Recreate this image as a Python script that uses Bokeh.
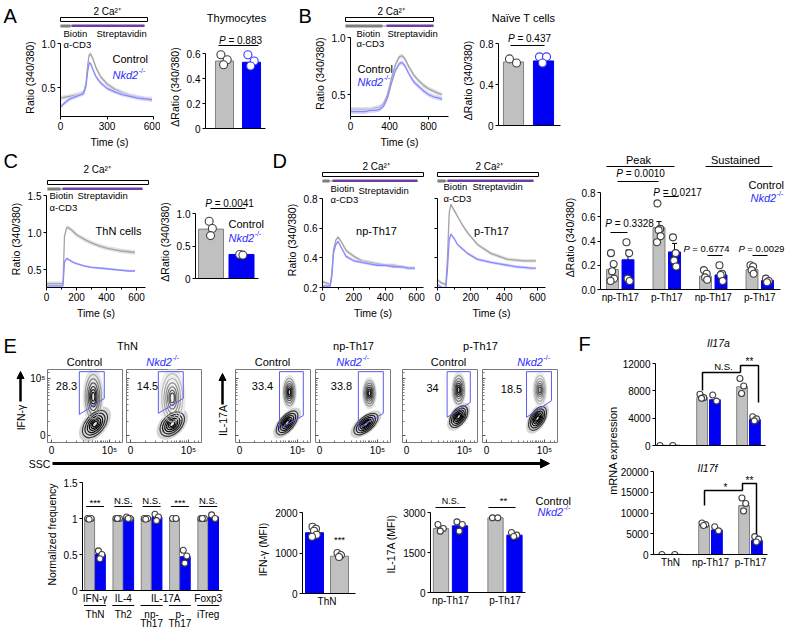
import math
from bokeh.plotting import figure
from bokeh.layouts import column
from bokeh.models import Range1d, FixedTicker, Arrow, NormalHead
from bokeh.core.properties import value
from bokeh.embed import file_html
from bokeh.resources import INLINE

FONT = "Liberation Sans"
GRAY = "#c0c0c0"
GRAY_EDGE = "#808080"
BLUE = "#0000f2"
TR_GRAY = "#a4a4a4"
TR_GRAY_BAND = "#dddddd"
TR_BLUE = "#8a8aff"
TR_BLUE_BAND = "#d0d0ff"
KO_TXT = "#2b2bff"
PURPLE = "#6e3f9e"
GATE = "#5c5cf0"
DOT_EDGE = "#404040"

# ======================= DATA =======================
# A  Thymocytes
A_time = [0, 30, 60, 90, 120, 150, 165, 175, 185, 195, 210, 230, 260, 300, 350, 400, 450, 500, 550, 590]
A_ctrl = [0.38, 0.39, 0.40, 0.41, 0.42, 0.45, 0.55, 0.75, 0.87, 0.88, 0.82, 0.72, 0.62, 0.54, 0.48, 0.44, 0.41, 0.39, 0.37, 0.37]
A_ko = [0.28, 0.33, 0.37, 0.39, 0.41, 0.43, 0.52, 0.68, 0.78, 0.77, 0.70, 0.62, 0.55, 0.49, 0.45, 0.42, 0.40, 0.38, 0.37, 0.36]
A_sem = [0.025, 0.022]
A_x_ticks = [0, 300, 600]
A_x_labels = ["0", "300", "600"]
A_y_ticks = [0.5, 1.0]
A_y_labels = ["0.5", "1.0"]
A_bar_mean = [0.54, 0.53]
A_bar_ctrl_pts = [0.59, 0.55, 0.51]
A_bar_ko_pts = [0.59, 0.54, 0.50]
A_bar_y_ticks = [0, 0.2, 0.4, 0.6]
A_bar_y_labels = ["0", "0.2", "0.4", "0.6"]
A_p = "0.883"

# B  Naive T cells
B_time = [0, 50, 100, 150, 200, 250, 300, 340, 380, 420, 460, 500, 530, 560, 600, 650, 700, 750, 800, 850, 900, 940]
B_ctrl = [0.37, 0.37, 0.37, 0.37, 0.37, 0.38, 0.39, 0.42, 0.50, 0.64, 0.76, 0.83, 0.84, 0.81, 0.74, 0.67, 0.62, 0.58, 0.55, 0.53, 0.51, 0.50]
B_ko = [0.35, 0.35, 0.35, 0.35, 0.36, 0.36, 0.37, 0.40, 0.47, 0.60, 0.71, 0.77, 0.78, 0.75, 0.68, 0.61, 0.57, 0.53, 0.50, 0.48, 0.47, 0.46]
B_sem = [0.02, 0.02]
B_x_ticks = [0, 400, 800]
B_x_labels = ["0", "400", "800"]
B_y_ticks = [0.5, 1.0]
B_y_labels = ["0.5", "1.0"]
B_bar_mean = [0.62, 0.63]
B_bar_ctrl_pts = [0.65, 0.61]
B_bar_ko_pts = [0.67, 0.67, 0.61]
B_bar_y_ticks = [0, 0.4, 0.8]
B_bar_y_labels = ["0", "0.4", "0.8"]
B_p = "0.437"

# C  ThN cells
C_time = [0, 25, 50, 75, 100, 110, 120, 135, 150, 175, 200, 250, 300, 350, 400, 450, 500, 550, 590]
C_ctrl = [0.31, 0.31, 0.31, 0.31, 0.31, 0.31, 0.95, 1.07, 1.06, 1.02, 0.97, 0.91, 0.86, 0.82, 0.79, 0.77, 0.75, 0.74, 0.73]
C_ko = [0.28, 0.28, 0.28, 0.28, 0.28, 0.28, 0.60, 0.65, 0.63, 0.60, 0.58, 0.55, 0.53, 0.52, 0.51, 0.50, 0.49, 0.48, 0.48]
C_sem = [0.03, 0.015]
C_x_ticks = [0, 200, 400, 600]
C_x_labels = ["0", "200", "400", "600"]
C_y_ticks = [0.5, 1.0, 1.5]
C_y_labels = ["0.5", "1.0", "1.5"]
C_bar_mean = [0.76, 0.37]
C_bar_ctrl_pts = [0.88, 0.77, 0.66]
C_bar_ko_pts = [0.37, 0.36]
C_bar_y_ticks = [0, 0.5, 1.0]
C_bar_y_labels = ["0", "0.5", "1.0"]
C_p = "0.0041"

# D  np-Th17 / p-Th17 traces
Dnp_time = [0, 25, 50, 60, 70, 85, 100, 125, 150, 200, 250, 300, 350, 400, 450, 500, 550, 590]
Dnp_ctrl = [0.24, 0.23, 0.22, 0.30, 0.45, 0.52, 0.54, 0.50, 0.45, 0.41, 0.38, 0.37, 0.36, 0.35, 0.35, 0.34, 0.33, 0.33]
Dnp_ko = [0.21, 0.21, 0.21, 0.28, 0.43, 0.49, 0.51, 0.46, 0.41, 0.38, 0.37, 0.36, 0.35, 0.35, 0.34, 0.34, 0.33, 0.33]
Dp_time = [0, 25, 50, 60, 70, 80, 100, 120, 150, 180, 210, 240, 280, 320, 370, 420, 470, 520, 560, 590]
Dp_ctrl = [0.25, 0.23, 0.22, 0.40, 0.70, 0.76, 0.72, 0.68, 0.62, 0.57, 0.53, 0.49, 0.46, 0.43, 0.41, 0.39, 0.385, 0.38, 0.38, 0.38]
Dp_ko = [0.22, 0.20, 0.195, 0.33, 0.52, 0.56, 0.53, 0.49, 0.46, 0.43, 0.41, 0.39, 0.38, 0.37, 0.36, 0.35, 0.34, 0.335, 0.33, 0.33]
D_sem = [0.012, 0.01]
D_x_ticks = [0, 200, 400, 600]
D_x_labels = ["0", "200", "400", "600"]
D_y_ticks = [0.2, 0.4, 0.6, 0.8]
D_y_labels = ["0.2", "0.4", "0.6", "0.8"]

# D  bar chart (peak / sustained)
D_bar_cats = ["np-Th17", "p-Th17", "np-Th17", "p-Th17"]
D_ctrl_mean = [0.165, 0.51, 0.11, 0.165]
D_ko_mean = [0.245, 0.31, 0.12, 0.075]
D_ctrl_sem = [0.05, 0.05, 0.025, 0.025]
D_ko_sem = [0.08, 0.07, 0.03, 0.012]
D_ctrl_pts = [[0.30, 0.21, 0.15, 0.09, 0.07], [0.71, 0.50, 0.49, 0.44, 0.39],
              [0.16, 0.13, 0.10, 0.08], [0.20, 0.19, 0.16, 0.13]]
D_ko_pts = [[0.39, 0.30, 0.09, 0.07], [0.43, 0.30, 0.24, 0.19],
            [0.20, 0.13, 0.12, 0.07], [0.09, 0.07, 0.06]]
D_bar_y_ticks = [0, 0.2, 0.4, 0.6, 0.8]
D_bar_y_labels = ["0.0", "0.2", "0.4", "0.6", "0.8"]
D_p = ["0.3328", "0.0217", "0.6774", "0.0029", "0.0010"]

# E  flow cytometry (contour populations: cx, cy, width, height, angle, tone)
E_flow_pct = ["28.3", "14.5", "33.4", "33.8", "34", "18.5"]
E_flow_blobs = [
    [(0.75, 0.20, 0.55, 0.33, 50, "dark"), (0.72, 0.68, 0.28, 0.78, 0, "mid")],
    [(0.72, 0.20, 0.50, 0.33, 45, "dark"), (0.72, 0.66, 0.36, 0.85, 0, "light")],
    [(0.82, 0.22, 0.50, 0.25, 50, "dark"), (0.86, 0.76, 0.20, 0.48, 0, "mid")],
    [(0.80, 0.20, 0.50, 0.25, 40, "dark"), (0.86, 0.74, 0.20, 0.45, 0, "mid")],
    [(0.90, 0.33, 0.42, 0.25, 55, "dark"), (0.90, 0.80, 0.20, 0.50, 0, "mid")],
    [(0.88, 0.30, 0.45, 0.25, 60, "dark"), (0.92, 0.80, 0.20, 0.50, 0, "light")],
]
E_gate_x = [[0.48, 0.48, 0.91, 0.91], [0.48, 0.48, 0.91, 0.91], [0.69, 0.69, 1.10, 1.10],
            [0.67, 0.67, 1.10, 1.10], [0.70, 0.70, 1.10, 1.10], [0.69, 0.69, 1.12, 1.12]]
E_gate_y = [[0.37, 1.12, 1.12, 0.65], [0.39, 1.12, 1.12, 0.65], [0.12, 1.12, 1.12, 0.35],
            [0.13, 1.12, 1.12, 0.39], [0.32, 1.12, 1.12, 0.58], [0.32, 1.12, 1.12, 0.61]]
E_flow_ticks = [0, 1]
E_flow_labels = ["0", "10\u2075"]

# E  normalized frequency
E_norm_cats = ["IFN-\u03b3", "IL-4", "IL-17A", "IL-17A", "Foxp3"]
E_norm_cells = ["ThN", "Th2", "np-Th17", "p-Th17", "iTreg"]
E_norm_ctrl = [1.0, 1.0, 1.0, 1.0, 1.0]
E_norm_ko = [0.50, 1.01, 1.02, 0.47, 1.02]
E_norm_ctrl_pts = [[1.0, 1.0, 0.99], [1.0, 1.0, 1.0], [1.0, 1.0, 0.99], [1.0, 1.0], [1.0, 1.0, 1.0]]
E_norm_ko_pts = [[0.55, 0.50, 0.44], [1.02, 1.0, 1.0], [1.06, 1.02, 0.97], [0.56, 0.48, 0.38], [1.05, 1.0]]
E_norm_sig = ["***", "N.S.", "N.S.", "***", "N.S."]
E_norm_y_ticks = [0, 0.5, 1, 1.5]
E_norm_y_labels = ["0", "0.5", "1", "1.5"]

# E  IFN-gamma MFI (ThN)
E_ifn_first = 1500
E_ifn_second = 920
E_ifn_first_pts = [1650, 1600, 1550, 1450, 1400]
E_ifn_second_pts = [1000, 950, 900]
E_ifn_y_ticks = [0, 1000, 2000]
E_ifn_y_labels = ["0", "1000", "2000"]

# E  IL-17A MFI
E_il17_cats = ["np-Th17", "p-Th17"]
E_il17_ctrl = [2400, 2800]
E_il17_ko = [2500, 2150]
E_il17_ctrl_pts = [[2550, 2400, 2300], [2800, 2800]]
E_il17_ko_pts = [[2650, 2550, 2300], [2250, 2150, 2100]]
E_il17_sig = ["N.S.", "**"]
E_il17_y_ticks = [0, 1500, 3000]
E_il17_y_labels = ["0", "1500", "3000"]

# F  mRNA expression
F_cats = ["ThN", "np-Th17", "p-Th17"]
F_a_ctrl = [30, 7000, 8600]
F_a_ko = [30, 6700, 3800]
F_a_ctrl_pts = [[0], [7500, 7000, 6900], [9800, 8700, 7600]]
F_a_ko_pts = [[0], [7400, 6500], [4200, 3900, 3600]]
F_a_y_ticks = [0, 4000, 8000, 12000]
F_a_y_labels = ["0", "4000", "8000", "12000"]
F_f_ctrl = [30, 7000, 11800]
F_f_ko = [30, 5900, 3400]
F_f_ctrl_pts = [[0], [7600, 7200, 7000], [13600, 12300, 10500]]
F_f_ko_pts = [[0], [6700, 5700], [4300, 3700, 3000]]
F_f_y_ticks = [0, 5000, 10000, 15000, 20000]
F_f_y_labels = ["0", "5000", "10000", "15000", "20000"]

# ======================= LAYOUT HELPERS =======================
PW, PH = 784, 632
BL, BR = 52, 2          # identical side borders for every figure (column aligns them)
OFF = [-0.2, 0.15, -0.05, 0.22, -0.25]
figs = []


def make_page(left_px, x0):
    p = figure(width=PW, height=PH, x_range=Range1d(x0, x0 + PW - BL - BR), y_range=Range1d(PH, 0),
               x_axis_type=None, y_axis_type=None, output_backend="svg", toolbar_location=None,
               min_border_left=BL, min_border_right=BR, min_border_top=0, min_border_bottom=0,
               background_fill_color=None, border_fill_color=None, outline_line_color=None)
    p.grid.visible = False
    p.styles = {"position": "absolute", "left": f"{left_px}px", "top": "0px"}
    return p


pageL = make_page(-BL, 0)                 # annotation layer for x in [0, 730]
pageR = make_page(BR, BL + BR)            # annotation layer for x in [54, 784]
LIMIT = PW - BL - BR - 2


def pick(xmax):
    return pageL if xmax <= LIMIT else pageR


def lin(p0, v0, p1, v1, px):
    return v0 + (px - p0) * (v1 - v0) / (p1 - p0)


def sub(L, T, R, B, xcal, ycal, bb=40):
    x0, x1 = lin(*xcal, L), lin(*xcal, R)
    y0, y1 = lin(*ycal, B), lin(*ycal, T)
    W = int(round(R - L))
    H = int(round(B - T))
    p = figure(width=W + BL + BR, height=H + bb + 2,
               x_range=Range1d(x0, x1), y_range=Range1d(y0, y1),
               output_backend="svg", toolbar_location=None,
               min_border_left=BL, min_border_right=BR, min_border_top=2, min_border_bottom=bb,
               background_fill_color=None, border_fill_color=None, outline_line_color=None)
    p.grid.visible = False
    p.styles = {"position": "absolute", "left": f"{int(round(L)) - BL}px",
                "top": f"{int(round(T)) - 2}px"}
    figs.append(p)
    return p


def style(p, xt, xl, yt, yl, xlab=None, ylab=None, xb=None, yb=None, xminor=(), yminor=(),
          tsize="10px", lsize="10.5px", xout=3, yout=3):
    for ax, ticks, labels, minor, lab, b, to in ((p.xaxis[0], xt, xl, xminor, xlab, xb, xout),
                                                 (p.yaxis[0], yt, yl, yminor, ylab, yb, yout)):
        ax.ticker = FixedTicker(ticks=list(ticks), minor_ticks=list(minor))
        ax.major_label_overrides = {t: s for t, s in zip(ticks, labels)}
        ax.axis_line_color = "black"
        ax.axis_line_width = 1
        ax.major_tick_line_color = "black" if to > 0 else None
        ax.major_tick_in = 0
        ax.major_tick_out = to
        ax.minor_tick_line_color = "black" if len(minor) else None
        ax.minor_tick_in = 0
        ax.minor_tick_out = 2
        ax.major_label_text_font = FONT
        ax.major_label_text_font_size = tsize
        ax.major_label_text_color = "black"
        ax.major_label_standoff = 2
        ax.axis_label = lab
        ax.axis_label_text_font = FONT
        ax.axis_label_text_font_size = lsize
        ax.axis_label_text_font_style = "normal"
        ax.axis_label_text_color = "black"
        ax.axis_label_standoff = 3
        if b is not None:
            ax.bounds = b


def trace(p, t, m, sem, line, band):
    p.varea(x=t, y1=[v - sem for v in m], y2=[v + sem for v in m], fill_color=band, fill_alpha=0.85)
    p.line(t, m, line_color=line, line_width=1.3)


def pts(p, x, vals, w, size, edge):
    xs = [x + OFF[i % len(OFF)] * w for i in range(len(vals))]
    p.scatter(xs, vals, marker="circle", size=size, fill_color="white", line_color=edge, line_width=1.1)


def bar(p, x, top, w, color):
    if color == "gray":
        p.vbar(x=[x], top=[top], bottom=0, width=w, fill_color=GRAY, line_color=GRAY_EDGE, line_width=1)
    else:
        p.vbar(x=[x], top=[top], bottom=0, width=w, fill_color=BLUE, line_color=BLUE, line_width=1)


def txt(x, y, s, size="11px", align="center", color="black", style_="normal", angle=0.0, base="middle"):
    px = float(size[:-2])
    if angle:
        xmax = x + px
    else:
        w = len(s) * 0.6 * px
        xmax = x + w if align == "left" else (x + w / 2 if align == "center" else x)
    pick(xmax).text(x=[x], y=[y], text=[s], angle=[angle], text_font=value(FONT),
                    text_font_size=value(size), text_align=value(align), text_baseline=value(base),
                    text_color=value(color), text_font_style=value(style_))


def seg(xs, ys, w=1.0, color="black"):
    pick(max(xs)).line(xs, ys, line_color=color, line_width=w)


def nkd(x, y, size=11, align="left"):
    wm = 2.334 * size
    ws = 0.944 * size * 0.65
    left = x if align == "left" else x - (wm + ws) / 2
    txt(left, y, "Nkd2", f"{size}px", "left", KO_TXT, "italic")
    txt(left + wm + 0.5, y - 0.32 * size, "-/-", f"{size * 0.65:.1f}px", "left", KO_TXT)


def ptext(cx, y, val, size=10):
    wp = (0.667 + 0.278) * size
    rest = "= " + val
    wr = (0.584 + 0.278 + sum(0.278 if ch == "." else 0.556 for ch in val)) * size
    left = cx - (wp + wr) / 2
    txt(left, y, "P", f"{size}px", "left", "black", "italic")
    txt(left + wp, y, rest, f"{size}px", "left")


def protocol(x0, x1, gx1, px0, px1, ytop, ca_x, ca_y, bio_x, bio_y, cd3_y, strep_x, strep_y):
    pg = pick(x1)
    pg.quad(left=[x0], right=[x1], top=[ytop], bottom=[ytop + 4], fill_color="white",
            line_color="black", line_width=1)
    pg.quad(left=[x0], right=[px1], top=[ytop + 8], bottom=[ytop + 9], fill_color="#8c8c8c", line_color=None)
    pg.quad(left=[x0], right=[gx1], top=[ytop + 7], bottom=[ytop + 10], fill_color="#7f7f7f", line_color=None)
    pg.quad(left=[px0], right=[px1], top=[ytop + 7], bottom=[ytop + 9.5], fill_color=PURPLE, line_color=None)
    txt(ca_x, ca_y, "2  Ca\u00b2\u207a", "10px")
    txt(bio_x, bio_y, "Biotin", "9.5px", "left")
    txt(bio_x, cd3_y, "\u03b1-CD3", "9.5px", "left")
    txt(strep_x, strep_y, "Streptavidin", "9.5px", "left")


# ======================= PANEL A =======================
pA = sub(60, 38, 158, 116, (60, 0, 153, 600), (87, 0.5, 43, 1.0))
style(pA, A_x_ticks, A_x_labels, A_y_ticks, A_y_labels, "Time (s)", "Ratio (340/380)",
      xb=(0, 600), yb=(pA.y_range.start, 1.0))
trace(pA, A_time, A_ctrl, A_sem[0], TR_GRAY, TR_GRAY_BAND)
trace(pA, A_time, A_ko, A_sem[1], TR_BLUE, TR_BLUE_BAND)

pAb = sub(205, 45, 265, 128, (224, 1, 251, 2), (128, 0, 53, 0.6))
style(pAb, [], [], A_bar_y_ticks, A_bar_y_labels, None, "\u0394Ratio (340/380)", yb=(0, 0.6))
bar(pAb, 1, A_bar_mean[0], 0.67, "gray")
bar(pAb, 2, A_bar_mean[1], 0.67, "blue")
pts(pAb, 1, A_bar_ctrl_pts, 0.67, 8, DOT_EDGE)
pts(pAb, 2, A_bar_ko_pts, 0.67, 8, "#3c3cff")

# ======================= PANEL B =======================
pB = sub(350, 30, 448, 116, (350, 0, 428, 800), (94, 0.5, 37, 1.0))
style(pB, B_x_ticks, B_x_labels, B_y_ticks, B_y_labels, "Time (s)", "Ratio (340/380)",
      yb=(pB.y_range.start, 1.0))
trace(pB, B_time, B_ctrl, B_sem[0], TR_GRAY, TR_GRAY_BAND)
trace(pB, B_time, B_ko, B_sem[1], TR_BLUE, TR_BLUE_BAND)

pBb = sub(498, 35, 560, 125, (513, 1, 543, 2), (125, 0, 43, 0.8))
style(pBb, [], [], B_bar_y_ticks, B_bar_y_labels, None, "\u0394Ratio (340/380)", yb=(0, 0.8))
bar(pBb, 1, B_bar_mean[0], 0.67, "gray")
bar(pBb, 2, B_bar_mean[1], 0.67, "blue")
pts(pBb, 1, B_bar_ctrl_pts, 0.67, 8, DOT_EDGE)
pts(pBb, 2, B_bar_ko_pts, 0.67, 8, "#3c3cff")

# ======================= PANEL C =======================
pC = sub(46, 190, 145, 287, (46, 0, 136, 600), (269, 0.5, 195, 1.5))
style(pC, C_x_ticks, C_x_labels, C_y_ticks, C_y_labels, "Time (s)", "Ratio (340/380)",
      yb=(pC.y_range.start, 1.5), xminor=[100, 300, 500])
trace(pC, C_time, C_ctrl, C_sem[0], TR_GRAY, TR_GRAY_BAND)
trace(pC, C_time, C_ko, C_sem[1], TR_BLUE, TR_BLUE_BAND)

pCb = sub(195, 205, 258, 278, (210.5, 1, 241, 2), (278, 0, 213, 1.0))
style(pCb, [], [], C_bar_y_ticks, C_bar_y_labels, None, "\u0394Ratio (340/380)", yb=(0, 1.0))
bar(pCb, 1, C_bar_mean[0], 0.82, "gray")
bar(pCb, 2, C_bar_mean[1], 0.82, "blue")
pts(pCb, 1, C_bar_ctrl_pts, 0.3, 8, DOT_EDGE)
pts(pCb, 2, C_bar_ko_pts, 0.3, 8, DOT_EDGE)

# ======================= PANEL D traces =======================
pDn = sub(322, 192, 423, 287, (322, 0, 416, 600), (287, 0.2, 198, 0.8))
style(pDn, D_x_ticks, D_x_labels, D_y_ticks, D_y_labels, "Time (s)", "Ratio (340/380)",
      yb=(0.2, 0.8), xminor=[100, 300, 500])
trace(pDn, Dnp_time, Dnp_ctrl, D_sem[0], TR_GRAY, TR_GRAY_BAND)
trace(pDn, Dnp_time, Dnp_ko, D_sem[1], TR_BLUE, TR_BLUE_BAND)

pDp = sub(437, 192, 545, 287, (437, 0, 537, 600), (287, 0.2, 198, 0.8))
style(pDp, D_x_ticks, D_x_labels, D_y_ticks, [""] * len(D_y_ticks), "Time (s)", None,
      yb=(0.2, 0.8), xminor=[100, 300, 500])
trace(pDp, Dp_time, Dp_ctrl, D_sem[0], TR_GRAY, TR_GRAY_BAND)
trace(pDp, Dp_time, Dp_ko, D_sem[1], TR_BLUE, TR_BLUE_BAND)

# ======================= PANEL D bars =======================
pDb = sub(600, 185, 780, 289, (612, 1, 767, 11), (289, 0, 192, 0.8))
xs_c = [1 + 3 * i for i in range(len(D_ctrl_mean))]
xs_k = [2 + 3 * i for i in range(len(D_ko_mean))]
style(pDb, [1.5 + 3 * i for i in range(len(D_bar_cats))], D_bar_cats, D_bar_y_ticks, D_bar_y_labels,
      None, "\u0394Ratio (340/380)", yb=(0, 0.8), xout=0)
pDb.vbar(x=xs_c, top=D_ctrl_mean, bottom=0, width=0.77, fill_color=GRAY, line_color=GRAY_EDGE)
pDb.vbar(x=xs_k, top=D_ko_mean, bottom=0, width=0.77, fill_color=BLUE, line_color=BLUE)
for xs, m, s in ((xs_c, D_ctrl_mean, D_ctrl_sem), (xs_k, D_ko_mean, D_ko_sem)):
    tops = [a + b for a, b in zip(m, s)]
    pDb.segment(x0=xs, y0=m, x1=xs, y1=tops, line_color="black", line_width=1)
    pDb.scatter(xs, tops, marker="dash", size=5, line_color="black", line_width=1)
for i in range(len(D_ctrl_pts)):
    pts(pDb, xs_c[i], D_ctrl_pts[i], 0.5, 7, DOT_EDGE)
    pts(pDb, xs_k[i], D_ko_pts[i], 0.5, 7, DOT_EDGE)

# ======================= PANEL E flow =======================
FLOW_L = [47, 126, 235, 315, 402, 482]
RING_SCALES = [1.0, 0.8, 0.62, 0.46, 0.32, 0.2]
TONES = {"dark": ("#d4d4d4", ["#3a3a3a", "#222222", "#111111", "#000000", "#000000", "#000000"]),
         "mid": ("#e3e3e3", ["#9a9a9a", "#7a7a7a", "#5a5a5a", "#3a3a3a", "#222222", "#111111"]),
         "light": ("#eeeeee", ["#bdbdbd", "#a5a5a5", "#8d8d8d", "#757575", "#5d5d5d", "#454545"])}
FLOW_MINOR = [0.25, 0.43, 0.55, 0.64, 0.7, 0.75, 0.8, 0.84, 0.87, 0.9, 0.93, 0.96, 1.1, 1.17]
for i, L in enumerate(FLOW_L):
    pf = sub(L, 369, L + 75, 442, (L + 4, 0, L + 62, 1), (435, 0, 378, 1), bb=18)
    ylabels = E_flow_labels if i == 0 else [""] * len(E_flow_ticks)
    style(pf, E_flow_ticks, E_flow_labels, E_flow_ticks, ylabels, xminor=FLOW_MINOR, yminor=FLOW_MINOR,
          tsize="10px")
    pf.outline_line_color = "#7a7a7a"
    for ax in (pf.xaxis[0], pf.yaxis[0]):
        ax.axis_line_color = None
        ax.major_tick_line_color = "#555555"
        ax.major_tick_in = 3
        ax.major_tick_out = 0
        ax.minor_tick_line_color = "#777777"
        ax.minor_tick_in = 2
        ax.minor_tick_out = 0
    for (cx, cy, w, h, ang, tone) in E_flow_blobs[i]:
        halo, cols = TONES[tone]
        pf.ellipse(x=[cx], y=[cy], width=[w * 1.3], height=[h * 1.25], angle=[math.radians(ang)],
                   fill_color=halo, line_color=None)
    for (cx, cy, w, h, ang, tone) in E_flow_blobs[i]:
        halo, cols = TONES[tone]
        for s, c in zip(RING_SCALES, cols):
            pf.ellipse(x=[cx], y=[cy], width=[w * s], height=[h * s], angle=[math.radians(ang)],
                       fill_color=None, line_color=c, line_width=1.2)
    pf.patch(E_gate_x[i], E_gate_y[i], fill_color=None, line_color=GATE, line_width=1)

# ======================= PANEL E bars =======================
pEn = sub(82, 478, 222, 590, (94.5, 0, 122.8, 1), (590, 0, 518, 1))
style(pEn, [], [], E_norm_y_ticks, E_norm_y_labels, None, "Normalized frequency", yb=(0, 1.5))
for g in range(len(E_norm_ctrl)):
    bar(pEn, g - 0.19, E_norm_ctrl[g], 0.35, "gray")
    bar(pEn, g + 0.19, E_norm_ko[g], 0.35, "blue")
    pts(pEn, g - 0.19, E_norm_ctrl_pts[g], 0.35, 6, DOT_EDGE)
    pts(pEn, g + 0.19, E_norm_ko_pts[g], 0.35, 6, DOT_EDGE)

pEi = sub(302, 505, 355, 593, (314, 1, 339, 2), (593, 0, 512, 2000))
style(pEi, [1.5], ["ThN"], E_ifn_y_ticks, E_ifn_y_labels, None, "IFN-\u03b3 (MFI)", yb=(0, 2000), xout=0)
bar(pEi, 1, E_ifn_first, 0.72, "blue")
bar(pEi, 2, E_ifn_second, 0.72, "gray")
pts(pEi, 1, E_ifn_first_pts, 0.4, 7, DOT_EDGE)
pts(pEi, 2, E_ifn_second_pts, 0.4, 7, DOT_EDGE)

pEl = sub(430, 495, 525, 592, (450, 0, 504.5, 1), (592, 0, 512, 3000))
style(pEl, [0, 1], E_il17_cats, E_il17_y_ticks, E_il17_y_labels, None, "IL-17A (MFI)", yb=(0, 3000), xout=0)
for g in range(len(E_il17_ctrl)):
    bar(pEl, g - 0.174, E_il17_ctrl[g], 0.28, "gray")
    bar(pEl, g + 0.174, E_il17_ko[g], 0.28, "blue")
    pts(pEl, g - 0.174, E_il17_ctrl_pts[g], 0.28, 6, DOT_EDGE)
    pts(pEl, g + 0.174, E_il17_ko_pts[g], 0.28, 6, DOT_EDGE)

# ======================= PANEL F =======================
pFa = sub(655, 355, 765, 445, (668, 0, 708, 1), (445, 0, 363, 12000))
style(pFa, [], [], F_a_y_ticks, F_a_y_labels, yb=(0, 12000))
pFf = sub(653, 462, 767, 554, (670, 0, 710, 1), (554, 0, 471, 20000))
style(pFf, [0, 1, 2], F_cats, F_f_y_ticks, F_f_y_labels, yb=(0, 20000), xout=0)
for pF, mc, mk, pc, pk in ((pFa, F_a_ctrl, F_a_ko, F_a_ctrl_pts, F_a_ko_pts),
                           (pFf, F_f_ctrl, F_f_ko, F_f_ctrl_pts, F_f_ko_pts)):
    for g in range(len(mc)):
        bar(pF, g - 0.16, mc[g], 0.27, "gray")
        bar(pF, g + 0.16, mk[g], 0.27, "blue")
        pts(pF, g - 0.16, pc[g], 0.27, 6, DOT_EDGE)
        pts(pF, g + 0.16, pk[g], 0.27, 6, DOT_EDGE)

# ======================= PAGE ANNOTATIONS =======================
for s, x, y in [("A", 3, 15), ("B", 298, 15), ("C", 3, 160), ("D", 272, 160), ("E", 3, 345), ("F", 578, 343)]:
    txt(x, y, s, "20px", "left")

protocol(60, 147, 70, 71, 144, 17, 108, 11, 63, 33, 44, 96, 33)
protocol(345, 433, 382, 386, 433, 17, 392, 11, 356, 33, 43, 387, 33)
protocol(47, 148, 60, 62, 142, 180, 98, 169, 49, 195, 207, 77, 195)
protocol(322, 423, 329, 332, 417, 172, 377, 166, 330, 188, 199, 358, 190)
protocol(437, 538, 445, 447, 533, 172, 490, 166, 443, 186, 198, 472, 186)

txt(236, 17, "Thymocytes")
txt(523, 17, "Na\u00efve T cells")
txt(118, 230, "ThN cells")
txt(376, 230, "np-Th17")
txt(491, 230, "p-Th17")

for x, y in [(112, 58), (357, 68), (228, 223), (748, 184), (535, 500)]:
    txt(x, y, "Control", "11px", "left")
for x, y in [(112, 74), (357, 81), (228, 237), (750, 197), (537, 511)]:
    nkd(x, y)

ptext(240, 40, A_p)
seg([218, 258], [45, 45])
ptext(529, 38, B_p)
seg([510, 544], [45, 45])
ptext(229, 203, C_p)
seg([210, 245], [208, 208])

# D bar annotations
txt(638, 159, "Peak")
seg([606, 674], [166, 166])
txt(735, 159, "Sustained")
seg([705, 772], [166, 166])
ptext(640, 173, D_p[4])
seg([617, 658], [181, 181])
ptext(677, 192, D_p[1])
seg([663, 678], [196, 196])
ptext(629, 223, D_p[0])
seg([610, 627], [232, 232])
ptext(706, 248, D_p[2], 9.5)
seg([707, 722], [255, 255])
ptext(761, 248, D_p[3], 9.5)
seg([752, 767], [255, 255])

# E flow annotations
txt(127, 345, "ThN")
txt(353, 345, "np-Th17")
txt(480, 345, "p-Th17")
for x in (84, 272, 448):
    txt(x, 361, "Control")
for x in (162, 352, 533):
    nkd(x, 361, 11, "center")
for s, x, y in zip(E_flow_pct, [66, 147, 262, 341, 432, 511], [385, 385, 385, 385, 387, 388]):
    txt(x, y, s)
txt(20, 417, "IFN-\u03b3", "10.5px", angle=math.pi / 2)
txt(222, 420, "IL-17A", "10.5px", angle=math.pi / 2)
pageL.add_layout(Arrow(end=NormalHead(size=7, fill_color="black", line_color="black"),
                       x_start=20, y_start=401, x_end=20, y_end=371, line_width=2.5))
pageL.add_layout(Arrow(end=NormalHead(size=7, fill_color="black", line_color="black"),
                       x_start=222, y_start=404, x_end=222, y_end=373, line_width=2.5))
txt(39, 463, "SSC", "10.5px")
pageL.add_layout(Arrow(end=NormalHead(size=9, fill_color="black", line_color="black"),
                       x_start=52, y_start=463, x_end=549, y_end=463, line_width=3))

# E normalized-frequency annotations
norm_cx = [94.5 + 28.3 * g for g in range(len(E_norm_cats))]
for g, cx in enumerate(norm_cx):
    txt(cx, 500 if E_norm_sig[g] == "N.S." else 502, E_norm_sig[g], "9.5px")
    seg([cx - 9, cx + 9], [506, 506])
    seg([cx - 11, cx + 11], [605, 605])
txt(norm_cx[0], 598, E_norm_cats[0], "10px")
txt(norm_cx[1], 598, E_norm_cats[1], "10px")
txt((norm_cx[2] + norm_cx[3]) / 2, 598, E_norm_cats[2], "10px")
txt(norm_cx[4], 598, E_norm_cats[4], "10px")
for g, cx in enumerate(norm_cx):
    name = E_norm_cells[g]
    if name.endswith("Th17"):
        txt(cx, 614, name.split("Th17")[0], "10px")
        txt(cx, 623, "Th17", "10px")
    else:
        txt(cx, 614, name, "10px")
txt(339, 539, "***", "9.5px")
txt(450, 500, E_il17_sig[0], "9px")
seg([435, 465], [507, 507])
txt(503, 500, E_il17_sig[1], "9.5px")
seg([488, 515], [507, 507])

# F annotations
txt(718, 342, "Il17a", "10.5px", style_="italic")
txt(707, 467, "Il17f", "10.5px", style_="italic")
txt(612, 450, "mRNA expression", "11px", angle=math.pi / 2)
seg([702, 702, 740], [390, 372, 372], 1.5)
seg([740, 740, 758, 758], [372, 365, 365, 402], 1.5)
txt(723, 366, "N.S.", "9.5px")
txt(749, 361, "**", "10px")
seg([704, 704, 742], [505, 490, 490], 1.5)
seg([742, 742, 756, 756], [490, 483, 483, 535], 1.5)
txt(725, 487, "*", "10px")
txt(749, 480, "**", "10px")

root = column(pageL, pageR, *figs, width=PW, height=PH)

html = file_html(root, INLINE, title="Nkd2 figure")
with open("out.html", "w") as f:
    f.write(html)
